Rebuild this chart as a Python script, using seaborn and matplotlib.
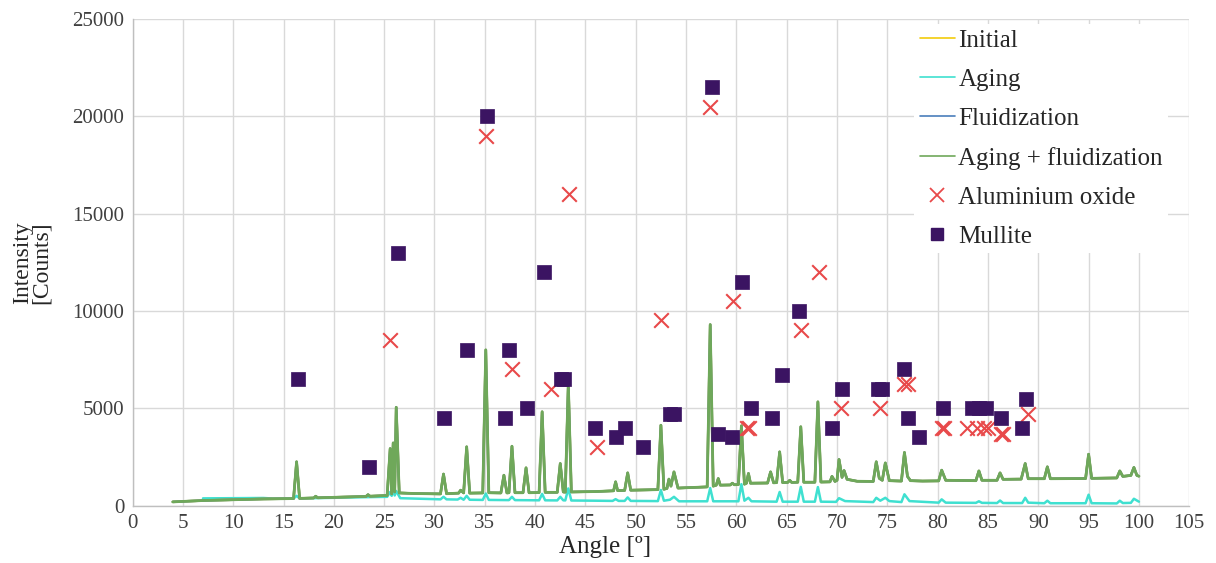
import numpy as np
import pandas as pd
import seaborn as sns
import matplotlib.pyplot as plt
from matplotlib.lines import Line2D

# XRD pattern vertices (angle in degrees, counts)
green_angle = [4.0, 7.0, 10.0, 13.0, 16.0, 16.3, 16.6, 18.0, 18.2, 18.4, 21.0, 23.2, 23.4, 23.6,
               25.3, 25.6, 25.75, 25.9, 26.05, 26.2, 26.5, 28.0, 30.6, 30.9, 31.2, 32.4, 32.6, 32.9,
               33.2, 33.5, 34.8, 35.1, 35.4, 36.6, 36.9, 37.2, 37.4, 37.7, 38.0, 38.8, 39.1, 39.4,
               40.4, 40.7, 41.0, 42.2, 42.5, 42.8, 43.0, 43.3, 43.6, 46.0, 47.8, 48.0, 48.2, 48.9,
               49.2, 49.5, 52.2, 52.5, 52.8, 53.1, 53.3, 53.5, 53.8, 54.2, 57.1, 57.4, 57.7, 58.0,
               58.2, 58.4, 59.4, 59.6, 59.8, 60.2, 60.5, 60.8, 61.0, 61.2, 61.4, 63.1, 63.4, 63.7,
               64.0, 64.3, 64.6, 65.1, 65.3, 65.5, 66.1, 66.4, 66.7, 67.8, 68.1, 68.4, 69.3, 69.5,
               69.8, 70.0, 70.2, 70.5, 70.7, 71.0, 72.0, 73.6, 73.9, 74.2, 74.5, 74.8, 75.2, 76.4,
               76.7, 77.0, 77.3, 78.5, 80.1, 80.4, 80.8, 83.8, 84.1, 84.4, 85.9, 86.2, 86.5, 88.3,
               88.7, 89.0, 90.6, 90.9, 91.2, 94.7, 95.0, 95.3, 97.8, 98.1, 98.4, 99.2, 99.5, 99.8,
               100.0]
green_counts = [190, 260, 300, 340, 360, 2250, 370, 390, 480, 400, 440, 470, 560, 480,
                520, 2930, 600, 3220, 700, 5050, 650, 620, 600, 1620, 610, 640, 790, 650,
                3020, 640, 650, 8000, 660, 650, 1560, 650, 660, 3050, 660, 660, 1940, 660,
                670, 4820, 680, 680, 2160, 700, 690, 6270, 700, 720, 760, 1220, 770, 780,
                1680, 790, 820, 4130, 840, 880, 1360, 1000, 1730, 900, 960, 9300, 1000, 1050,
                1390, 1050, 1060, 1150, 1070, 1080, 4100, 1100, 1150, 1650, 1150, 1160, 1730, 1170,
                1180, 2760, 1180, 1190, 1300, 1190, 1200, 4050, 1200, 1200, 5330, 1210, 1220, 1500,
                1240, 1300, 2370, 1450, 1800, 1350, 1250, 1240, 2250, 1400, 1300, 2190, 1280, 1260,
                2730, 1500, 1280, 1260, 1270, 1820, 1300, 1280, 1780, 1300, 1300, 1680, 1350, 1360,
                2160, 1380, 1380, 1990, 1380, 1390, 2640, 1400, 1420, 1780, 1500, 1550, 1960, 1550,
                1510]

cyan_angle = [7.0, 10.0, 13.0, 14.0, 16.0, 16.3, 16.6, 20.0, 23.0, 25.3, 25.6, 25.75, 25.9, 26.05,
              26.2, 26.6, 30.0, 30.6, 30.9, 31.2, 32.3, 32.6, 32.9, 33.2, 33.5, 34.8, 35.1, 35.4,
              37.4, 37.7, 38.0, 40.4, 40.7, 41.0, 42.2, 42.5, 42.8, 43.0, 43.3, 43.6, 46.0, 47.7,
              48.0, 48.3, 48.9, 49.2, 49.5, 52.2, 52.5, 52.8, 53.4, 53.8, 54.3, 57.1, 57.4, 57.7,
              60.2, 60.5, 60.8, 61.2, 61.5, 64.0, 64.3, 64.6, 66.1, 66.4, 66.7, 67.8, 68.1, 68.4,
              69.9, 70.2, 70.8, 73.6, 73.9, 74.3, 74.8, 75.2, 76.4, 76.7, 77.2, 80.1, 80.4, 80.8,
              83.8, 84.1, 84.4, 85.9, 86.2, 86.5, 88.4, 88.7, 89.0, 90.6, 90.9, 91.2, 94.7, 95.0,
              95.3, 97.8, 98.1, 98.4, 99.2, 99.5, 100.0]
cyan_counts = [370, 380, 390, 360, 360, 500, 370, 400, 430, 450, 700, 500, 880, 520,
               750, 380, 330, 320, 450, 320, 310, 400, 300, 500, 300, 290, 620, 290,
               280, 450, 280, 270, 600, 270, 265, 450, 270, 265, 880, 260, 250, 240,
               330, 240, 240, 420, 240, 230, 800, 250, 300, 450, 220, 220, 900, 220,
               220, 1100, 250, 400, 220, 200, 700, 200, 200, 960, 200, 200, 950, 200,
               190, 380, 230, 180, 400, 250, 400, 230, 180, 580, 230, 150, 320, 150,
               140, 220, 140, 130, 260, 130, 130, 400, 150, 120, 250, 120, 120, 560,
               120, 110, 250, 130, 140, 350, 200]

# reference peak markers
mullite_angle = [16.4, 23.5, 26.4, 30.9, 33.2, 35.2, 37.0, 37.4, 39.2, 40.9, 42.6, 42.9, 46.0,
                 48.0, 48.9, 50.7, 53.4, 53.8, 57.6, 58.2, 59.6, 60.6, 61.5, 63.5, 64.5, 66.2,
                 69.5, 70.5, 74.1, 74.5, 76.7, 77.1, 78.1, 80.5, 83.4, 84.1, 84.8, 86.3, 88.4,
                 88.8]
mullite_counts = [6500, 2000, 13000, 4500, 8000, 20000, 4500, 8000, 5000, 12000, 6500, 6500, 4000,
                  3500, 4000, 3000, 4700, 4700, 21500, 3700, 3500, 11500, 5000, 4500, 6700, 10000,
                  4000, 6000, 6000, 6000, 7000, 4500, 3500, 5000, 5000, 5000, 5000, 4500, 4000,
                  5500]

alox_angle = [25.6, 35.1, 37.7, 41.6, 43.4, 46.2, 52.5, 57.4, 59.7, 61.1, 61.3, 66.4, 68.2,
              70.4, 74.3, 76.7, 77.1, 80.4, 80.6, 82.9, 83.9, 84.6, 85.0, 86.3, 86.5, 89.0]
alox_counts = [8500, 19000, 7000, 6000, 16000, 3000, 9550, 20500, 10500, 4000, 4000, 9000, 12000,
               5000, 5000, 6250, 6250, 4000, 4000, 4000, 4000, 4000, 4000, 3700, 3700, 4700]

green = pd.DataFrame({"angle": green_angle, "counts": green_counts})
cyan = pd.DataFrame({"angle": cyan_angle, "counts": cyan_counts})
mullite = pd.DataFrame({"angle": mullite_angle, "counts": mullite_counts})
alox = pd.DataFrame({"angle": alox_angle, "counts": alox_counts})

sns.set_style("whitegrid")
plt.rcParams['font.family'] = ['Liberation Serif', 'DejaVu Serif']

c_init = "#F2CC0C"
c_aging = "#3FE0D0"
c_fluid = "#4A7EBB"
c_af = "#6FA85A"
c_alox = "#E8494A"
c_mull = "#3B1462"

fig, ax = plt.subplots(figsize=(12.16, 5.63), dpi=100)
fig.subplots_adjust(left=0.109, right=0.978, top=0.966, bottom=0.102)

sns.lineplot(data=cyan, x="angle", y="counts", ax=ax, color=c_aging, lw=1.8, sort=False, estimator=None)
sns.lineplot(data=green, x="angle", y="counts", ax=ax, color=c_init, lw=1.8, sort=False, estimator=None)
sns.lineplot(data=green, x="angle", y="counts", ax=ax, color=c_fluid, lw=1.8, sort=False, estimator=None)
sns.lineplot(data=green, x="angle", y="counts", ax=ax, color=c_af, lw=2.0, sort=False, estimator=None)
sns.scatterplot(data=alox, x="angle", y="counts", ax=ax, marker="x", color=c_alox, s=110,
                linewidth=1.5, zorder=4)
sns.scatterplot(data=mullite, x="angle", y="counts", ax=ax, marker="s", color=c_mull, s=95,
                edgecolor=c_mull, linewidth=0.5, zorder=5)

ax.set_xlim(0, 105)
ax.set_ylim(0, 25000)
ax.set_xticks(np.arange(0, 106, 5))
ax.set_yticks(np.arange(0, 25001, 5000))
ax.grid(True, color="#D9D9D9", lw=1)
for s in ["top", "right"]:
    ax.spines[s].set_visible(False)
for s in ["left", "bottom"]:
    ax.spines[s].set_color("#BFBFBF")
    ax.spines[s].set_linewidth(1)
ax.tick_params(axis="both", length=0, labelsize=15, colors="#404040", pad=6)
for t in ax.get_xticklabels() + ax.get_yticklabels():
    t.set_color("#404040")

ax.set_xlabel("Angle [º]", fontsize=18, color="#262626")
ax.xaxis.set_label_coords(0.447, -0.062)
ax.set_ylabel("Intensity\n[Counts]", fontsize=17, color="#262626", linespacing=0.9)
ax.yaxis.set_label_coords(-0.076, 0.5)

handles = [
    Line2D([], [], color=c_init, lw=1.2, label="Initial"),
    Line2D([], [], color=c_aging, lw=1.2, label="Aging"),
    Line2D([], [], color=c_fluid, lw=1.2, label="Fluidization"),
    Line2D([], [], color=c_af, lw=1.2, label="Aging + fluidization"),
    Line2D([], [], color=c_alox, lw=0, marker="x", markersize=10, markeredgewidth=1.3,
           label="Aluminium oxide"),
    Line2D([], [], color=c_mull, lw=0, marker="s", markersize=9, label="Mullite"),
]
leg = ax.legend(handles=handles, loc="upper right", bbox_to_anchor=(0.985, 1.0), fontsize=18,
                frameon=True, framealpha=1, facecolor="white", edgecolor="white",
                handlelength=1.4, handletextpad=0.15, labelspacing=0.66, borderpad=0.22,
                borderaxespad=0.2)
leg.get_frame().set_linewidth(0)
leg.set_zorder(10)
for t in leg.get_texts():
    t.set_color("#262626")

fig.savefig("out.png", dpi=100)
